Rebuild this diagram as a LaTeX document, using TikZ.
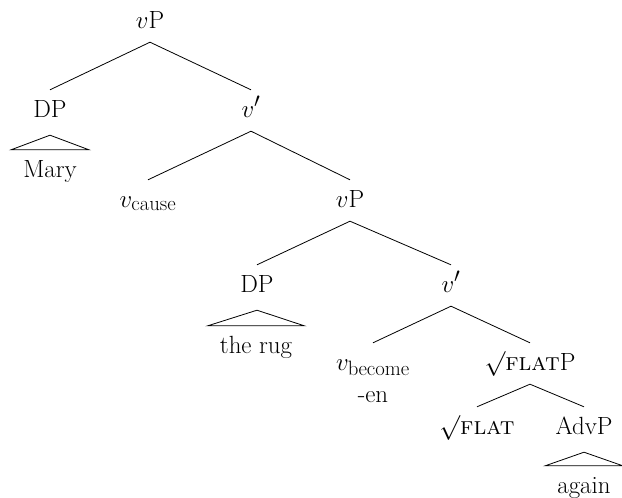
\documentclass[tikz,border=0pt]{standalone}
\usepackage{fontspec}
\begin{document}
\begin{tikzpicture}[x=1pt,y=-1pt,
  lab/.style={anchor=base,font=\Huge,inner xsep=0pt,inner ysep=10pt,text height=17pt,text depth=4pt},
  br/.style={line width=0.8pt},
  roof/.style={line width=0.8pt}]
\useasboundingbox (0,0) rectangle (622,498);
% labels
\node[lab] (vP)   at (150,28)  {$v$P};
\node[lab] (DP)   at (50,117)  {DP};
\node[lab] (vbar) at (251,117) {$v'$};
\node[lab] (Mary) at (50,177)  {Mary};
\node[lab] (vc)   at (148,207) {$v_{\mathrm{cause}}$};
\node[lab] (vP2)  at (350,207) {$v$P};
\node[lab] (DP2)  at (257,292) {DP};
\node[lab] (vbar2) at (451,292) {$v'$};
\node[lab] (rug)  at (256,353) {the rug};
\node[lab] (vb)   at (373,370) {$v_{\mathrm{become}}$};
\node[lab] (en)   at (373,402) {-en};
\node[lab] (flatP) at (530,370) {$\surd$\textsc{flat}P};
\node[lab] (flat) at (477,434) {$\surd$\textsc{flat}};
\node[lab] (AdvP) at (584,434) {AdvP};
\node[lab] (again) at (584,493) {again};
% branches
\draw[br] (vP.south) -- (DP.north);
\draw[br] (vP.south) -- (vbar.north);
\draw[br] (vbar.south) -- (vc.north);
\draw[br] (vbar.south) -- (vP2.north);
\draw[br] (vP2.south) -- (DP2.north);
\draw[br] (vP2.south) -- (vbar2.north);
\draw[br] (vbar2.south) -- (vb.north);
\draw[br] (vbar2.south) -- (flatP.north);
\draw[br] (flatP.south) -- (flat.north);
\draw[br] (flatP.south) -- (AdvP.north);
% roofs
\draw[roof] ([yshift=-4pt]DP.south) -- ([xshift=-12pt]Mary.north west) -- ([xshift=12pt]Mary.north east) -- cycle;
\draw[roof] ([yshift=-4pt]DP2.south) -- ([xshift=-12pt]rug.north west) -- ([xshift=12pt]rug.north east) -- cycle;
\draw[roof] ([yshift=-4pt]AdvP.south) -- ([xshift=-12pt]again.north west) -- ([xshift=12pt]again.north east) -- cycle;
\end{tikzpicture}
\end{document}
